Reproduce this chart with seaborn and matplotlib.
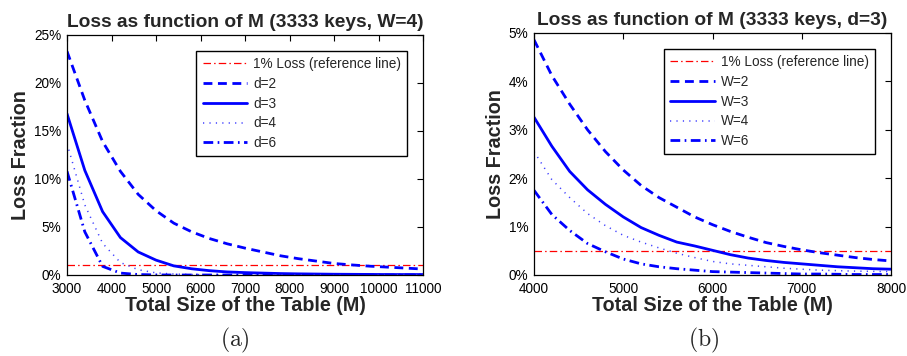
import numpy as np
import pandas as pd
import matplotlib
matplotlib.use("Agg")
import matplotlib.pyplot as plt
import seaborn as sns
from matplotlib.ticker import PercentFormatter

# ---------------- data (values in percent) ----------------
m_left = [3000, 3400, 3800, 4200, 4600, 5000, 5400, 5800, 6200, 6600, 7000,
          7400, 7800, 8200, 8600, 9000, 9400, 9800, 10200, 10600, 11000]
loss_d2 = [23.3, 18.2, 13.9, 10.8, 8.4, 6.7, 5.4, 4.5, 3.8, 3.25, 2.8,
           2.4, 2.0, 1.7, 1.45, 1.2, 1.05, 0.92, 0.82, 0.72, 0.62]
loss_d3 = [16.8, 10.9, 6.6, 3.9, 2.4, 1.55, 0.95, 0.65, 0.45, 0.32, 0.25,
           0.2, 0.15, 0.12, 0.1, 0.08, 0.07, 0.06, 0.05, 0.05, 0.05]
loss_d4 = [13.7, 7.3, 3.3, 1.3, 0.55, 0.22, 0.1, 0.05, 0.02, 0.01, 0.01,
           0.0, 0.0, 0.0, 0.0, 0.0, 0.0, 0.0, 0.0, 0.0, 0.0]
loss_d6 = [10.8, 4.5, 0.9, 0.2, 0.05, 0.01, 0.0, 0.0, 0.0, 0.0, 0.0,
           0.0, 0.0, 0.0, 0.0, 0.0, 0.0, 0.0, 0.0, 0.0, 0.0]
ref_left = 1.0

m_right = [4000, 4200, 4400, 4600, 4800, 5000, 5200, 5400, 5600, 5800, 6000,
           6200, 6400, 6600, 6800, 7000, 7200, 7400, 7600, 7800, 8000]
loss_w2 = [4.86, 4.12, 3.53, 3.0, 2.55, 2.17, 1.85, 1.6, 1.4, 1.2, 1.04,
           0.9, 0.78, 0.67, 0.59, 0.52, 0.46, 0.41, 0.36, 0.32, 0.29]
loss_w3 = [3.26, 2.66, 2.14, 1.76, 1.46, 1.2, 0.98, 0.82, 0.68, 0.6, 0.51,
           0.42, 0.35, 0.3, 0.26, 0.23, 0.2, 0.17, 0.15, 0.13, 0.12]
loss_w4 = [2.55, 1.97, 1.6, 1.27, 1.02, 0.82, 0.68, 0.56, 0.45, 0.36, 0.28,
           0.23, 0.2, 0.17, 0.14, 0.12, 0.1, 0.09, 0.08, 0.075, 0.07]
loss_w6 = [1.75, 1.25, 0.92, 0.65, 0.48, 0.33, 0.23, 0.17, 0.13, 0.1, 0.07,
           0.06, 0.05, 0.04, 0.03, 0.02, 0.02, 0.015, 0.01, 0.01, 0.01]
ref_right = 0.5

labels_left = ["d=2", "d=3", "d=4", "d=6"]
labels_right = ["W=2", "W=3", "W=4", "W=6"]
ref_label = "1% Loss (reference line)"
titles = ["Loss as function of M (3333 keys, W=4)",
          "Loss as function of M (3333 keys, d=3)"]
xlabel = "Total Size of the Table (M)"
ylabel = "Loss Fraction"
captions = ["(a)", "(b)"]

# ---------------- style ----------------
sns.set_style("white")
plt.rcParams['font.family'] = ['Liberation Sans', 'DejaVu Sans']
plt.rcParams['mathtext.fontset'] = 'cm'

fig = plt.figure(figsize=(9.07, 3.56), dpi=100)
ax_l = fig.add_axes([67/907, 1-275/356, 356/907, 240/356])
ax_r = fig.add_axes([534/907, 1-275/356, 357/907, 242/356])

blue = "#0000ff"
styles = [
    dict(linestyle=(0, (3.2, 2.0)), lw=2.0, color=blue),
    dict(linestyle="-", lw=2.0, color=blue),
    dict(linestyle=(0, (0.8, 3.4)), lw=1.1, color="#4040ff"),
    dict(linestyle=(0, (3.5, 1.6, 0.6, 1.6)), lw=2.0, color=blue),
]
ref_style = dict(linestyle=(0, (6, 2.5, 1.2, 2.5)), lw=0.9, color="#ff0000")


def draw(ax, xs, series, labels, ref, xlim, ylim, xticks, yticks, title):
    sns.lineplot(x=[xs[0], xs[-1]], y=[ref, ref], ax=ax, label=ref_label,
                 **ref_style)
    for ys, lab, st in zip(series, labels, styles):
        sns.lineplot(x=xs, y=ys, ax=ax, label=lab, **st)
    ax.set_xlim(*xlim)
    ax.set_ylim(*ylim)
    ax.set_xticks(xticks)
    ax.set_yticks(yticks)
    ax.yaxis.set_major_formatter(PercentFormatter(decimals=0))
    ax.tick_params(direction="in", length=4, width=0.8, top=True, right=True,
                   labelsize=9.8, colors="black")
    ax.tick_params(axis="x", pad=5)
    ax.tick_params(axis="y", pad=4)
    for sp in ax.spines.values():
        sp.set_color("black")
        sp.set_linewidth(0.9)
    ax.set_title(title, fontsize=13.8, fontweight="bold", pad=6)
    ax.set_xlabel(xlabel, fontsize=14.2, fontweight="bold", labelpad=0)
    ax.set_ylabel(ylabel, fontsize=14.2, fontweight="bold", labelpad=3)
    leg = ax.legend(loc="upper right", bbox_to_anchor=(1 - 16/356, 1 - 16/240),
                    borderaxespad=0, fontsize=9.8, frameon=True, fancybox=False,
                    handlelength=3.3, handletextpad=0.4, labelspacing=0.42,
                    borderpad=0.45)
    fr = leg.get_frame()
    fr.set_edgecolor("black")
    fr.set_linewidth(1.0)
    fr.set_alpha(1)


draw(ax_l, m_left, [loss_d2, loss_d3, loss_d4, loss_d6], labels_left, ref_left,
     (3000, 11000), (0, 25), list(range(3000, 11001, 1000)), [0, 5, 10, 15, 20, 25],
     titles[0])
draw(ax_r, m_right, [loss_w2, loss_w3, loss_w4, loss_w6], labels_right, ref_right,
     (4000, 8000), (0, 5), list(range(4000, 8001, 1000)), [0, 1, 2, 3, 4, 5],
     titles[1])

fig.text(235/907, 1-340/356, r"$\mathrm{(a)}$", ha="center", va="center", fontsize=17)
fig.text(704/907, 1-340/356, r"$\mathrm{(b)}$", ha="center", va="center", fontsize=17)

fig.savefig("out.png", dpi=100)
